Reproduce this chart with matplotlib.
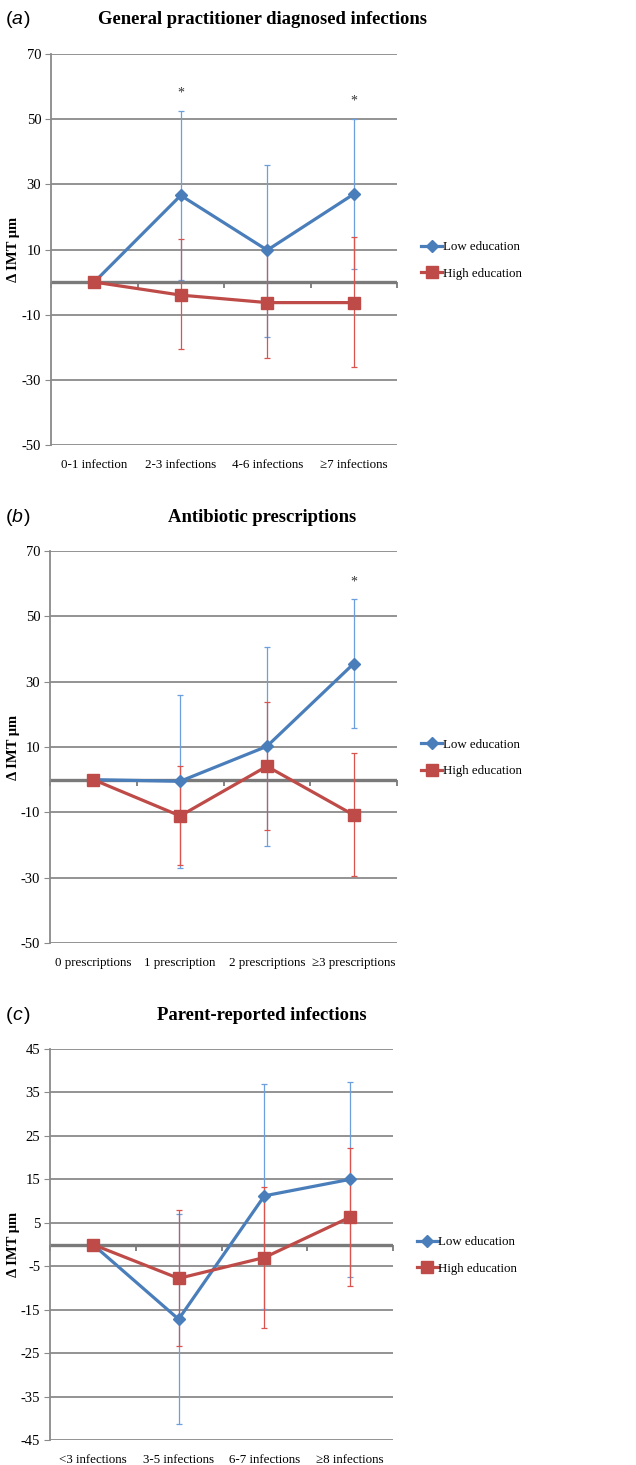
import matplotlib.pyplot as plt

# panel (a)
gp_labels = ['0-1 infection', '2-3 infections', '4-6 infections', '\u22657 infections']
gp_low = [0, 26.6, 9.8, 27.0]
gp_low_hi = [0, 52.5, 36.0, 50.0]
gp_low_lo = [0, 0.5, -17.0, 3.9]
gp_high = [0, -4.0, -6.3, -6.3]
gp_high_hi = [0, 13.2, 11.2, 13.8]
gp_high_lo = [0, -20.5, -23.3, -26.1]
gp_star_x = [1, 3]
gp_star_y = [58.0, 55.5]

# panel (b)
ab_labels = ['0 prescriptions', '1 prescription', '2 prescriptions', '\u22653 prescriptions']
ab_low = [0, -0.5, 10.2, 35.5]
ab_low_hi = [0, 25.9, 40.7, 55.4]
ab_low_lo = [0, -26.9, -20.3, 15.8]
ab_high = [0, -11.1, 4.1, -10.8]
ab_high_hi = [0, 4.1, 23.9, 8.2]
ab_high_lo = [0, -26.2, -15.3, -29.6]
ab_star_x = [3]
ab_star_y = [60.5]

# panel (c)
pr_labels = ['<3 infections', '3-5 infections', '6-7 infections', '\u22658 infections']
pr_low = [0, -17.2, 11.2, 15.0]
pr_low_hi = [0, 7.0, 37.0, 37.5]
pr_low_lo = [0, -41.3, -14.8, -7.4]
pr_high = [0, -7.8, -3.0, 6.3]
pr_high_hi = [0, 8.0, 13.2, 22.1]
pr_high_lo = [0, -23.4, -19.2, -9.5]

BLUE = '#4a7ebb'
RED = '#be4b48'
BLUE_ERR = '#6c9fdc'
RED_ERR = '#d9534f'
GRID = '#8a8a8a'

W, H = 636, 1465
plt.rcParams['font.family'] = ['Liberation Serif', 'DejaVu Serif']
plt.rcParams['axes.unicode_minus'] = False
fig = plt.figure(figsize=(W / 100, H / 100), dpi=100)


def panel(box, tag, title, title_y, labels, low, low_hi, low_lo, high, high_hi, high_lo,
          yticks, star_x=(), star_y=()):
    left, top, right, bottom = box
    ax = fig.add_axes([left / W, 1 - bottom / H, (right - left) / W, (bottom - top) / H])
    x = list(range(len(labels)))

    ax.errorbar(x, low, yerr=[[l - lo for l, lo in zip(low, low_lo)],
                              [hi - l for l, hi in zip(low, low_hi)]],
                fmt='none', ecolor=BLUE_ERR, elinewidth=0.9, capsize=2, capthick=0.9, zorder=3)
    ax.errorbar(x, high, yerr=[[h - lo for h, lo in zip(high, high_lo)],
                               [hi - h for h, hi in zip(high, high_hi)]],
                fmt='none', ecolor=RED_ERR, elinewidth=0.9, capsize=2, capthick=0.9, zorder=3)
    ax.plot(x, low, color=BLUE, lw=2.3, marker='D', markersize=6.5, label='Low education', zorder=5)
    ax.plot(x, high, color=RED, lw=2.3, marker='s', markersize=8, label='High education', zorder=6)
    for sx, sy in zip(star_x, star_y):
        ax.text(sx, sy, '*', ha='center', va='center', fontsize=10, color='#333333')

    ax.set_xlim(-0.5, len(labels) - 0.5)
    ax.set_ylim(yticks[-1], yticks[0])
    ax.set_yticks(yticks)
    ax.yaxis.grid(True, color=GRID, lw=1.3)
    ax.set_axisbelow(True)
    ax.tick_params(axis='y', length=4, color=GRID, labelsize=10.5, pad=3)
    ax.axhline(0, color='#7a7a7a', lw=2.4, zorder=2)

    # zero axis with boundary ticks
    ax.spines['bottom'].set_position(('data', 0))
    ax.spines['bottom'].set_visible(False)
    ax.set_xticks([i - 0.5 for i in range(len(labels) + 1)])
    ax.set_xticklabels([])
    ax.tick_params(axis='x', direction='out', length=4, width=1.3, color='#7a7a7a')
    for s in ['top', 'right']:
        ax.spines[s].set_visible(False)
    ax.spines['left'].set_color(GRID)
    ax.spines['left'].set_linewidth(1.3)

    sec = ax.secondary_xaxis(0)
    sec.set_xticks(x)
    sec.set_xticklabels(labels, fontsize=9.4)
    sec.tick_params(length=0, pad=10)
    sec.spines['bottom'].set_visible(False)

    ax.legend(loc='center left', bbox_to_anchor=(1.055, 0.472), frameon=False, fontsize=9.3,
              handlelength=1.6, handletextpad=0.05, labelspacing=1.15, borderaxespad=0)

    fig.text(13 / W, 1 - (bottom + top) / 2 / H, '\u0394 IMT \u03bcm', rotation=90,
             ha='center', va='center', fontsize=10.5, fontweight='bold')
    fig.text(262 / W, 1 - title_y / H, title, ha='center', va='center',
             fontsize=13.4, fontweight='bold')
    fig.text(6 / W, 1 - title_y / H, '(', ha='left', va='center', fontsize=14,
             family='Liberation Sans')
    fig.text(12 / W, 1 - title_y / H, tag, ha='left', va='center', fontsize=14,
             family='Liberation Sans', style='italic')
    fig.text(24 / W, 1 - title_y / H, ')', ha='left', va='center', fontsize=14,
             family='Liberation Sans')
    return ax


panel((51, 54, 397, 445), 'a', 'General practitioner diagnosed infections', 20,
      gp_labels, gp_low, gp_low_hi, gp_low_lo, gp_high, gp_high_hi, gp_high_lo,
      [70, 50, 30, 10, -10, -30, -50], gp_star_x, gp_star_y)
panel((50, 551, 397, 943), 'b', 'Antibiotic prescriptions', 518,
      ab_labels, ab_low, ab_low_hi, ab_low_lo, ab_high, ab_high_hi, ab_high_lo,
      [70, 50, 30, 10, -10, -30, -50], ab_star_x, ab_star_y)
panel((50, 1049, 393, 1440), 'c', 'Parent-reported infections', 1015,
      pr_labels, pr_low, pr_low_hi, pr_low_lo, pr_high, pr_high_hi, pr_high_lo,
      [45, 35, 25, 15, 5, -5, -15, -25, -35, -45])

fig.savefig('out.png', dpi=100)
